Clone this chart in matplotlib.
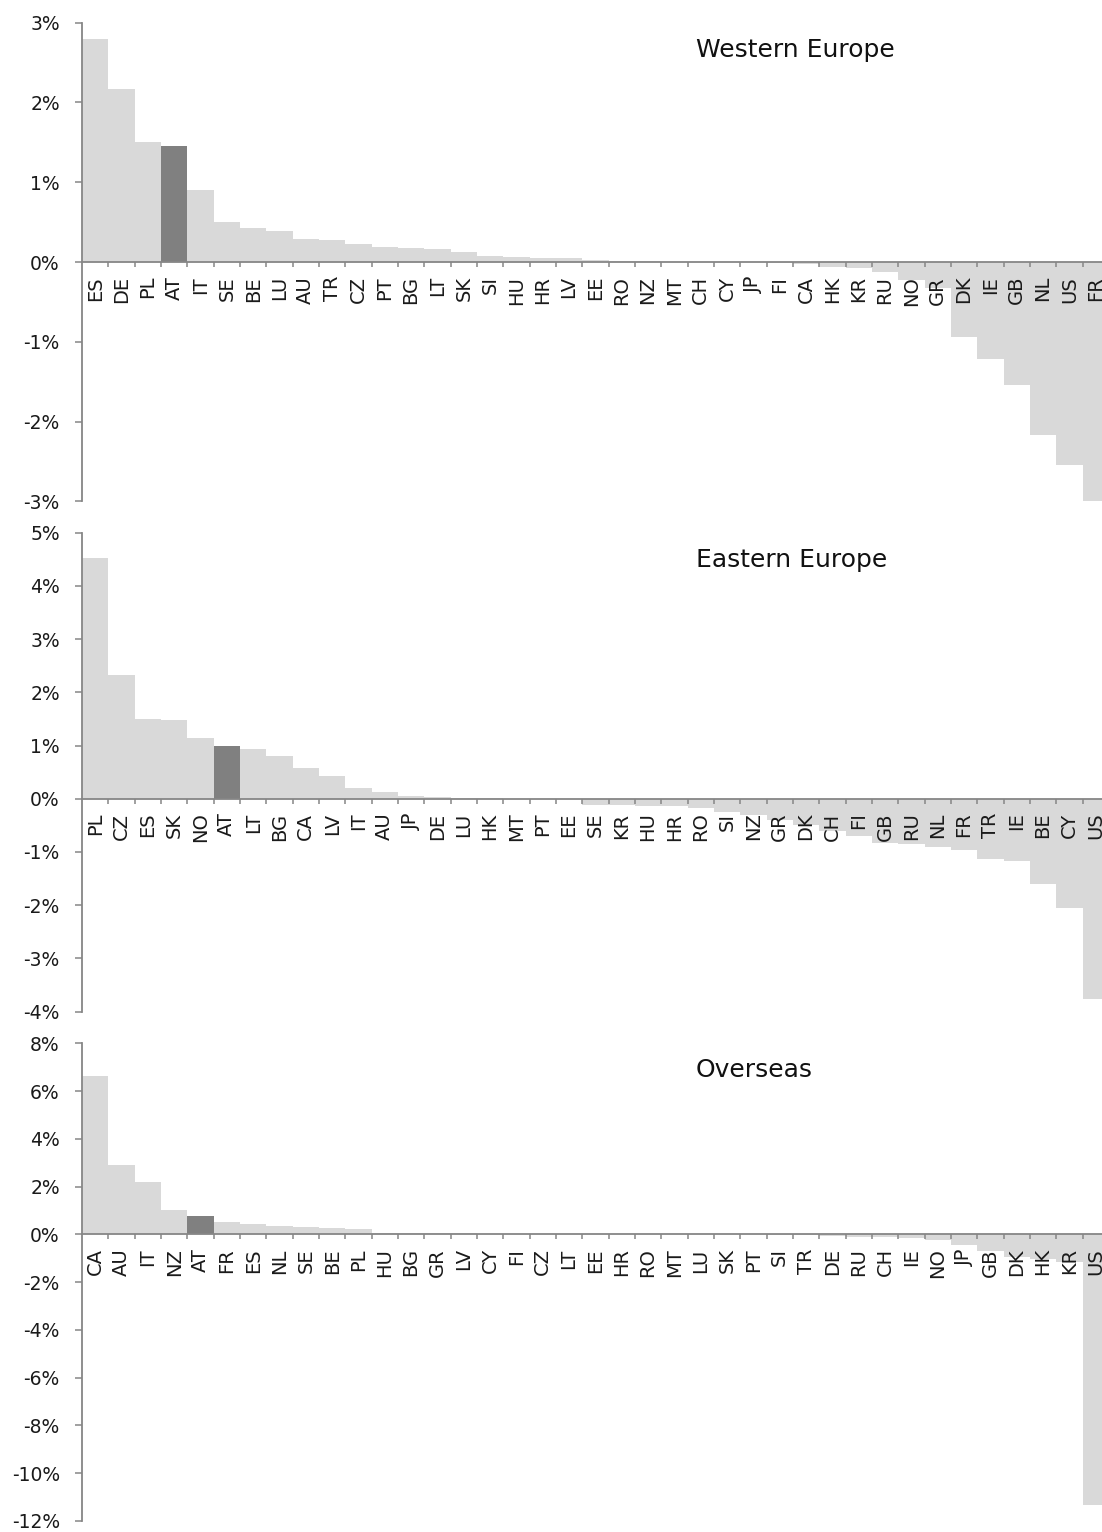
import matplotlib
matplotlib.use("Agg")
import matplotlib.pyplot as plt
from matplotlib.ticker import FixedLocator

plt.rcParams['font.family'] = ['DejaVu Sans']

# ---------------- data ----------------
west_labels = ["ES", "DE", "PL", "AT", "IT", "SE", "BE", "LU", "AU", "TR", "CZ", "PT", "BG",
               "LT", "SK", "SI", "HU", "HR", "LV", "EE", "RO", "NZ", "MT", "CH", "CY", "JP",
               "FI", "CA", "HK", "KR", "RU", "NO", "GR", "DK", "IE", "GB", "NL", "US", "FR"]
west_values = [2.80, 2.17, 1.51, 1.45, 0.90, 0.50, 0.42, 0.39, 0.29, 0.28, 0.22, 0.19, 0.18,
               0.16, 0.13, 0.075, 0.06, 0.055, 0.045, 0.03, 0.015, 0.01, 0.005, 0.003, 0.002, 0.0,
               -0.01, -0.03, -0.06, -0.07, -0.13, -0.22, -0.32, -0.94, -1.22, -1.54, -2.17, -2.54, -2.99]

east_labels = ["PL", "CZ", "ES", "SK", "NO", "AT", "LT", "BG", "CA", "LV", "IT", "AU", "JP",
               "DE", "LU", "HK", "MT", "PT", "EE", "SE", "KR", "HU", "HR", "RO", "SI", "NZ",
               "GR", "DK", "CH", "FI", "GB", "RU", "NL", "FR", "TR", "IE", "BE", "CY", "US"]
east_values = [4.52, 2.32, 1.49, 1.48, 1.15, 0.99, 0.93, 0.80, 0.57, 0.43, 0.21, 0.12, 0.05,
               0.025, 0.01, 0.005, 0.0, 0.0, -0.01, -0.11, -0.125, -0.13, -0.13, -0.175, -0.25, -0.30,
               -0.40, -0.50, -0.60, -0.71, -0.83, -0.86, -0.90, -0.97, -1.14, -1.17, -1.60, -2.06, -3.76]

over_labels = ["CA", "AU", "IT", "NZ", "AT", "FR", "ES", "NL", "SE", "BE", "PL", "HU", "BG",
               "GR", "LV", "CY", "FI", "CZ", "LT", "EE", "HR", "RO", "MT", "LU", "SK", "PT",
               "SI", "TR", "DE", "RU", "CH", "IE", "NO", "JP", "GB", "DK", "HK", "KR", "US"]
over_values = [6.63, 2.89, 2.19, 1.02, 0.77, 0.53, 0.43, 0.36, 0.32, 0.28, 0.22, 0.07, 0.06,
               0.05, 0.04, 0.02, 0.01, 0.01, 0.005, 0.0, 0.0, 0.0, 0.0, 0.0, 0.0, 0.0,
               -0.01, -0.04, -0.06, -0.09, -0.11, -0.15, -0.24, -0.46, -0.68, -0.93, -1.02, -1.15, -11.33]

panel_titles = ["Western Europe", "Eastern Europe", "Overseas"]
highlight = "AT"

y_ticks_west = [-3, -2, -1, 0, 1, 2, 3]
y_ticks_east = [-4, -3, -2, -1, 0, 1, 2, 3, 4, 5]
y_ticks_over = [-12, -10, -8, -6, -4, -2, 0, 2, 4, 6, 8]

# ---------------- figure ----------------
W, H = 1102, 1532
fig = plt.figure(figsize=(W / 100, H / 100), dpi=100)

LIGHT = "#D9D9D9"
DARK = "#808080"
AXCOL = "#868686"

left_px = 82.0
bar_px = 26.33
panels = [
    (west_labels, west_values, y_ticks_west, panel_titles[0], 22.7, 501.3),
    (east_labels, east_values, y_ticks_east, panel_titles[1], 532.7, 1011.5),
    (over_labels, over_values, y_ticks_over, panel_titles[2], 1043.3, 1521.0),
]

for labels, values, yticks, title, top_px, bot_px in panels:
    n = len(labels)
    ax = fig.add_axes([left_px / W, 1 - bot_px / H, n * bar_px / W, (bot_px - top_px) / H])
    x = list(range(n))
    colors = [DARK if lab == highlight else LIGHT for lab in labels]
    ax.bar(x, values, width=1.0, color=colors, edgecolor="none", zorder=1)
    ax.set_xlim(-0.5, n - 0.5)
    ax.set_ylim(yticks[0], yticks[-1])

    for s in ["top", "right"]:
        ax.spines[s].set_visible(False)
    ax.spines["bottom"].set_position(("data", 0))
    for s in ["bottom", "left"]:
        ax.spines[s].set_color(AXCOL)
        ax.spines[s].set_linewidth(1.3)
        ax.spines[s].set_zorder(3)

    ax.set_yticks(yticks)
    ax.set_yticklabels([f"{t}%" for t in yticks])
    ax.tick_params(axis="y", direction="out", length=5, width=1.1, color=AXCOL,
                   labelsize=13.5, pad=11, labelcolor="#1a1a1a")

    # ticks at category boundaries, labels at category centres
    ax.xaxis.set_major_locator(FixedLocator([i - 0.5 for i in range(1, n + 1)]))
    ax.xaxis.set_major_formatter(plt.NullFormatter())
    ax.xaxis.set_minor_locator(FixedLocator(x))
    ax.set_xticklabels(labels, minor=True, rotation=90, fontsize=14, color="#1a1a1a")
    ax.tick_params(axis="x", which="major", direction="out", length=3.5, width=1.1, color=AXCOL)
    ax.tick_params(axis="x", which="minor", length=0, pad=10)
    for lab in ax.xaxis.get_minorticklabels():
        lab.set_verticalalignment("top")

    ax.text(0.5976, 0.944, title, transform=ax.transAxes, ha="left", va="center",
            fontsize=18, color="#111111")

fig.savefig("out.png", dpi=100)
